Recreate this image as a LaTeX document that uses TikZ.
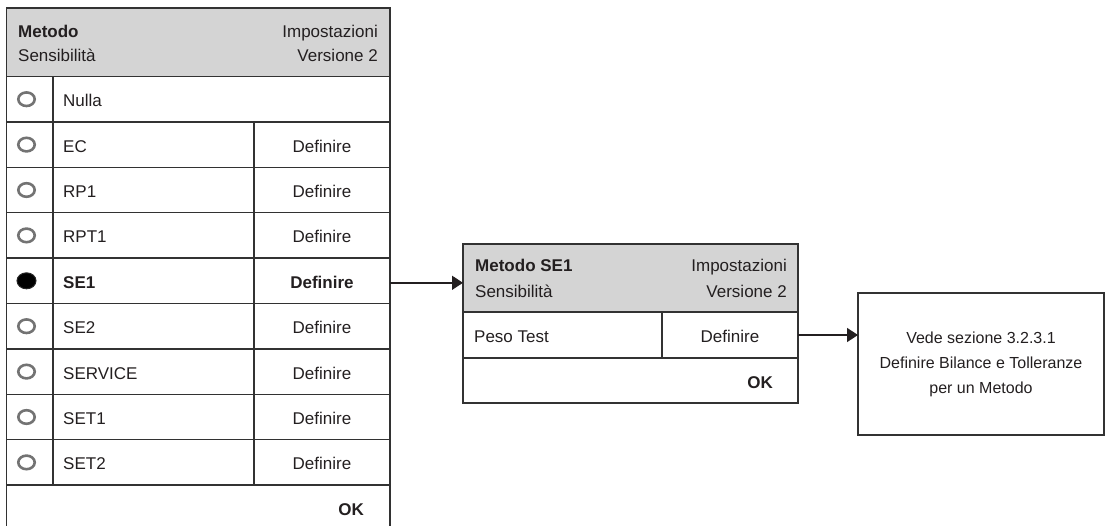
\documentclass[tikz,border=0pt]{standalone}
\usepackage{fontspec}
\setmainfont{Liberation Sans}
\usepackage{tikz}
\usetikzlibrary{arrows.meta,positioning}
\definecolor{hdrgray}{RGB}{212,212,212}
\definecolor{linegray}{RGB}{50,50,50}
\definecolor{inkblk}{RGB}{35,31,32}
\tikzset{
  cell/.style={draw=linegray, line width=1.5pt, inner sep=0pt, outer sep=0pt, anchor=north west},
  hdr/.style={cell, fill=hdrgray},
  txt/.style={inner sep=0pt, text=inkblk, font=\fontsize{17}{20}\selectfont},
  btxt/.style={txt, font=\fontsize{17}{20}\selectfont\bfseries},
  radio/.style={draw=black!55, line width=2.6pt, fill=white},
  radioon/.style={fill=black, draw=black!85, line width=1pt},
  conn/.style={draw=inkblk, line width=1.5pt, -{Triangle[length=11pt,width=14pt]}}
}
\begin{document}
\begin{tikzpicture}[x=1pt,y=-1pt]
  \useasboundingbox (0,0) rectangle (1106,525);
  \clip (0,0) rectangle (1106,525);

  % left panel
  \node[hdr, minimum width=383.5pt, minimum height=68.5pt] (hdrL) at (6.5,8) {};
  \node[btxt, anchor=base west] at ([xshift=11.5pt,yshift=-29.5pt]hdrL.north west) {Metodo};
  \node[txt, anchor=base west] at ([xshift=11.5pt,yshift=-53.5pt]hdrL.north west) {Sensibilità};
  \node[txt, anchor=base east] at ([xshift=-12pt,yshift=-29.5pt]hdrL.north east) {Impostazioni};
  \node[txt, anchor=base east] at ([xshift=-12pt,yshift=-53.5pt]hdrL.north east) {Versione 2};
  \foreach \lbl [count=\i from 0] in {Nulla,EC,RP1,RPT1,SE1,SE2,SERVICE,SET1,SET2} {
    \node[cell, minimum width=383.5pt, minimum height=45.4pt] (rowL\i) at (6.5,{76.5+45.4*\i}) {};
    \ifnum\i=4
      \draw[radioon] ([xshift=20pt]rowL\i.west) ellipse [x radius=9.5pt, y radius=8pt];
      \node[btxt, anchor=base west] (lblL\i) at ([xshift=56.5pt,yshift=-7.5pt]rowL\i.west) {\lbl};
      \node[btxt, anchor=base] (defL\i) at ([xshift=-68pt,yshift=-7.5pt]rowL\i.east) {Definire};
    \else
      \draw[radio] ([xshift=20pt]rowL\i.west) ellipse [x radius=8.2pt, y radius=6.8pt];
      \node[txt, anchor=base west] (lblL\i) at ([xshift=56.5pt,yshift=-7.5pt]rowL\i.west) {\lbl};
      \ifnum\i>0
        \node[txt, anchor=base] (defL\i) at ([xshift=-68pt,yshift=-7.5pt]rowL\i.east) {Definire};
      \fi
    \fi
  }
  \draw[cell] (53,76.5) -- (53,485);
  \draw[cell] (254,122) -- (254,485);
  \node[cell, minimum width=383.5pt, minimum height=45.4pt] (okL) at (6.5,485) {};
  \node[btxt, anchor=base east] at ([xshift=-26pt,yshift=-7.5pt]okL.east) {OK};

  % middle panel
  \node[hdr, minimum width=335pt, minimum height=68pt] (hdrM) at (463,244) {};
  \node[btxt, anchor=base west] at ([xshift=12pt,yshift=-27.5pt]hdrM.north west) {Metodo SE1};
  \node[txt, anchor=base west] at ([xshift=12pt,yshift=-53pt]hdrM.north west) {Sensibilità};
  \node[txt, anchor=base east] at ([xshift=-11pt,yshift=-27.5pt]hdrM.north east) {Impostazioni};
  \node[txt, anchor=base east] at ([xshift=-11pt,yshift=-53pt]hdrM.north east) {Versione 2};
  \node[cell, minimum width=335pt, minimum height=46pt] (peso) at (463,312) {};
  \draw[cell] (662,312) -- (662,358);
  \node[txt, anchor=base west] at ([xshift=11pt,yshift=-7.5pt]peso.west) {Peso Test};
  \node[txt, anchor=base] at ([xshift=-68pt,yshift=-7.5pt]peso.east) {Definire};
  \node[cell, minimum width=335pt, minimum height=45pt] (okM) at (463,358) {};
  \node[btxt, anchor=base east] at ([xshift=-25pt,yshift=-7.5pt]okM.east) {OK};

  % reference box
  \node[cell, minimum width=246pt, minimum height=142pt, align=center, text=inkblk,
        font=\fontsize{16}{25}\selectfont] (refbox) at (858,293)
        {Vede sezione 3.2.3.1\\Definire Bilance e Tolleranze\\per un Metodo};

  \draw[conn] ([yshift=-2pt]rowL4.east) -- ([yshift=-2pt]rowL4.east -| hdrM.west);
  \draw[conn] (peso.east) -- (peso.east -| refbox.west);
\end{tikzpicture}
\end{document}
